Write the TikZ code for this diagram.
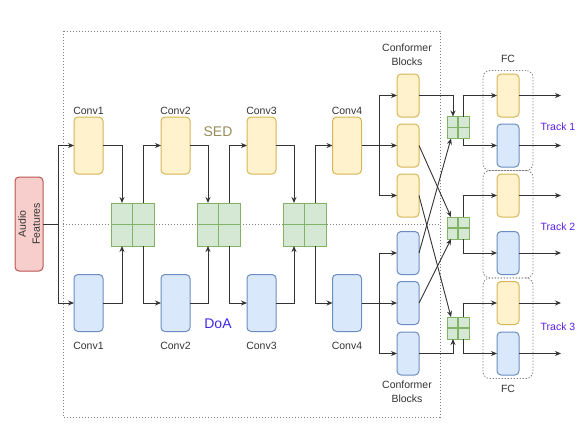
\documentclass[tikz,border=0pt]{standalone}
\usepackage{fontspec}
\setmainfont{Liberation Sans}
\usetikzlibrary{arrows.meta,fit}
\definecolor{sedfill}{HTML}{FFF2CC}
\definecolor{seddraw}{HTML}{D6B656}
\definecolor{doafill}{HTML}{DAE8FC}
\definecolor{doadraw}{HTML}{6C8EBF}
\definecolor{xfill}{HTML}{D5E8D4}
\definecolor{xdraw}{HTML}{82B366}
\definecolor{infill}{HTML}{F8CECC}
\definecolor{indraw}{HTML}{B85450}
\definecolor{wire}{HTML}{333333}
\definecolor{sedtext}{RGB}{150,140,90}
\definecolor{doatext}{RGB}{60,40,235}
\definecolor{tracktext}{RGB}{90,30,230}

\begin{document}
\begin{tikzpicture}[x=1pt,y=-1pt,
  every node/.style={inner sep=0pt,outer sep=0pt},
  box/.style={rounded corners=4pt,line width=1pt},
  sedbox/.style={box,draw=seddraw,fill=sedfill},
  doabox/.style={box,draw=doadraw,fill=doafill},
  conv/.style={minimum width=29pt,minimum height=57pt},
  blk/.style={minimum width=22pt,minimum height=43pt},
  xunit/.style={draw=xdraw,fill=xfill,line width=1pt,minimum size=#1,
    path picture={\draw[xdraw,line width=1.2pt]
      (path picture bounding box.north) -- (path picture bounding box.south)
      (path picture bounding box.west) -- (path picture bounding box.east);}},
  lbl/.style={text=wire,font=\fontsize{10.5}{14}\selectfont,align=center},
  big/.style={font=\fontsize{14}{16}\selectfont},
  wireline/.style={draw=wire,line width=0.9pt},
  arrow/.style={wireline,-{Stealth[length=6pt,width=5pt]}},
  region/.style={draw=gray,line width=0.9pt,dash pattern=on 1.2pt off 1.8pt},
]
\useasboundingbox (0,0) rectangle (586,426);

% SED / DoA regions
\draw[region] (63,31) rectangle (440,417);
\draw[region] (63,224) -- (440,224);
\node[big,text=sedtext] (sedlabel) at (218,132) {SED};
\node[big,text=doatext] (doalabel) at (218,324) {DoA};

% input
\node[box,draw=indraw,fill=infill,minimum width=28pt,minimum height=94pt] (audio) at (29,224) {};
\node[lbl,rotate=90] at (audio) {Audio\\Features};
\coordinate (jA) at (58,224);

% conv stacks
\foreach \n/\x/\t in {A/88.5/1,B/175.5/2,C/261.5/3,D/347/4} {
  \node[sedbox,conv] (sed\n) at (\x,145.5) {};
  \node[doabox,conv] (doa\n) at (\x,303) {};
  \node[lbl] at (\x,110.5) {Conv\t};
  \node[lbl] at (\x,346) {Conv\t};
}
\foreach \g/\x in {1/132.5,2/218.5,3/304.5}
  \node[xunit=43pt] (xs\g) at (\x,224.5) {};

\draw[wireline] (audio.east) -- (jA);
\draw[arrow] (jA) |- (sedA.west);
\draw[arrow] (jA) |- (doaA.west);
\foreach \a/\b/\g in {A/B/1,B/C/2,C/D/3} {
  \draw[arrow] (sed\a.east) -| ([xshift=-10.5pt]xs\g.north);
  \draw[arrow] (doa\a.east) -| ([xshift=-10.5pt]xs\g.south);
  \draw[arrow] ([xshift=10.5pt]xs\g.north) |- (sed\b.west);
  \draw[arrow] ([xshift=10.5pt]xs\g.south) |- (doa\b.west);
}

% conformer blocks
\foreach \i/\y in {1/95.5,2/145.5,3/195.5}
  \node[sedbox,blk] (cfs\i) at (408,\y) {};
\foreach \i/\y in {1/253,2/303,3/353.5}
  \node[doabox,blk] (cfd\i) at (408,\y) {};
\node[lbl] at (407,55) {Conformer\\Blocks};
\node[lbl] at (407,392) {Conformer\\Blocks};
\coordinate (jS) at (379,145.5);
\coordinate (jD) at (379,303);
\draw[arrow] (sedD.east) -- (cfs2.west);
\draw[arrow] (jS) |- (cfs1.west);
\draw[arrow] (jS) |- (cfs3.west);
\draw[arrow] (doaD.east) -- (cfd2.west);
\draw[arrow] (jD) |- (cfd1.west);
\draw[arrow] (jD) |- (cfd3.west);

% track assignment
\foreach \i/\y in {1/127.5,2/228,3/328}
  \node[xunit=22pt] (xt\i) at (458,\y) {};
\draw[arrow] (cfs1.east) -| ([xshift=-5pt]xt1.north);
\draw[arrow] (cfd3.east) -| ([xshift=-5pt]xt3.south);
\draw[arrow] (cfs2.east) -- ([xshift=-7pt]xt2.north);
\draw[arrow] (cfs3.east) -- ([xshift=-7pt]xt3.north);
\draw[arrow] (cfd1.east) -- ([xshift=-7pt]xt1.south);
\draw[arrow] (cfd2.east) -- ([xshift=-7pt]xt2.south);

% FC heads
\foreach \i/\y in {1/95.5,2/195.5,3/303}
  \node[sedbox,blk] (fcs\i) at (508,\y) {};
\foreach \i/\y in {1/145.5,2/253,3/353.5}
  \node[doabox,blk] (fcd\i) at (508,\y) {};
\foreach \i in {1,2,3} {
  \node[region,rounded corners=7pt,fit=(fcs\i)(fcd\i),inner xsep=14pt,inner ysep=3.5pt] (fc\i) {};
  \draw[arrow] ([xshift=5pt]xt\i.north) |- (fcs\i.west);
  \draw[arrow] ([xshift=5pt]xt\i.south) |- (fcd\i.west);
}
\node[lbl] at (508,59) {FC};
\node[lbl] at (508,389) {FC};

% outputs
\coordinate (out) at (561,0);
\foreach \n in {fcs1,fcd1,fcs2,fcd2,fcs3,fcd3}
  \draw[arrow] (\n.east) -- (\n.east -| out);
\node[lbl,text=tracktext] (track1) at (558,127) {Track 1};
\node[lbl,text=tracktext] (track2) at (558,227) {Track 2};
\node[lbl,text=tracktext] (track3) at (558,327) {Track 3};
\end{tikzpicture}
\end{document}
